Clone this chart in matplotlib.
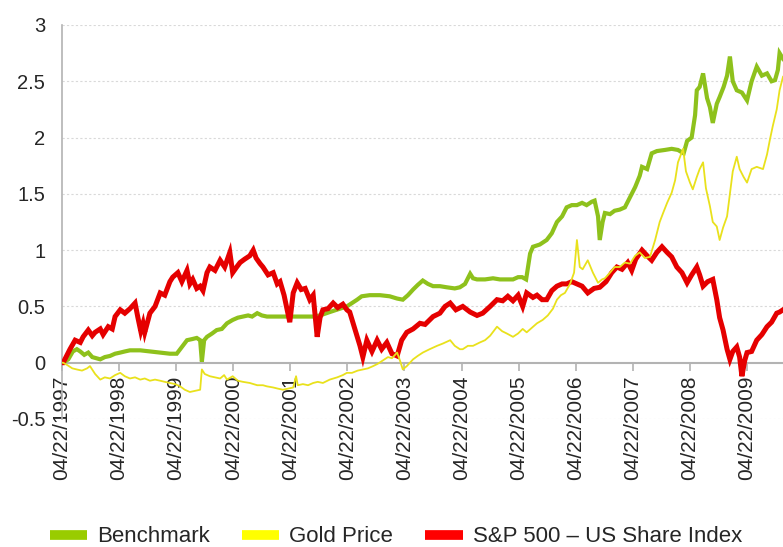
import matplotlib
matplotlib.use("Agg")
import matplotlib.pyplot as plt
from matplotlib.lines import Line2D
import pandas as pd
import numpy as np

# ---------------- data (years since 04/22/1997, cumulative return) ----------------
start_date = "1997-04-22"
tick_years = list(range(1997, 2010))
x_end_years = 12.63

series_names = ["Benchmark", "Gold Price", "S&P 500 \u2013 US Share Index"]

sp_t = [0.0, 0.02, 0.14, 0.23, 0.32, 0.37, 0.46, 0.53, 0.58, 0.67, 0.72, 0.81, 0.88, 0.93, 1.02, 1.10,
        1.19, 1.28, 1.33, 1.38, 1.42, 1.45, 1.54, 1.63, 1.72, 1.80, 1.89, 1.94, 2.03, 2.10, 2.19,
        2.24, 2.29, 2.36, 2.42, 2.47, 2.54, 2.59, 2.68, 2.77, 2.85, 2.94, 2.99, 3.06, 3.12, 3.20,
        3.29, 3.35, 3.40, 3.47, 3.52, 3.61, 3.70, 3.77, 3.82, 3.89, 3.94, 3.99, 4.05, 4.12, 4.19,
        4.26, 4.34, 4.40, 4.47, 4.52, 4.57, 4.66, 4.75, 4.83, 4.92, 4.99, 5.04, 5.13, 5.22, 5.27,
        5.34, 5.43, 5.52, 5.60, 5.69, 5.78, 5.87, 5.95, 6.04, 6.15, 6.27, 6.36, 6.50, 6.62, 6.71,
        6.80, 6.90, 7.02, 7.15, 7.27, 7.37, 7.50, 7.62, 7.72, 7.81, 7.90, 7.99, 8.07, 8.14, 8.25,
        8.32, 8.41, 8.49, 8.58, 8.67, 8.76, 8.84, 8.93, 9.02, 9.11, 9.21, 9.32, 9.42, 9.53, 9.63,
        9.72, 9.81, 9.91, 9.98, 10.05, 10.16, 10.25, 10.33, 10.42, 10.51, 10.60, 10.68, 10.77,
        10.86, 10.95, 11.03, 11.12, 11.17, 11.23, 11.31, 11.40, 11.47, 11.52, 11.58, 11.65, 11.70,
        11.75, 11.82, 11.87, 11.91, 11.96, 12.00, 12.08, 12.17, 12.26, 12.35, 12.43, 12.52, 12.57, 12.63]
sp_v = [0.0, 0.0, 0.12, 0.2, 0.18, 0.23, 0.29, 0.24, 0.27, 0.3, 0.25, 0.32, 0.3, 0.41, 0.47, 0.44,
        0.48, 0.53, 0.4, 0.28, 0.35, 0.27, 0.44, 0.5, 0.62, 0.6, 0.72, 0.76, 0.8, 0.72, 0.82,
        0.7, 0.74, 0.66, 0.68, 0.64, 0.8, 0.85, 0.82, 0.91, 0.85, 0.98, 0.8, 0.85, 0.89, 0.92,
        0.95, 1.0, 0.93, 0.88, 0.85, 0.78, 0.8, 0.7, 0.72, 0.6, 0.48, 0.36, 0.62, 0.71, 0.65,
        0.66, 0.56, 0.6, 0.23, 0.4, 0.47, 0.48, 0.53, 0.49, 0.52, 0.47, 0.45, 0.3, 0.15, 0.05,
        0.2, 0.1, 0.2, 0.12, 0.18, 0.08, 0.06, 0.2, 0.27, 0.3, 0.35, 0.34, 0.41, 0.44, 0.5,
        0.53, 0.47, 0.5, 0.45, 0.42, 0.44, 0.5, 0.56, 0.55, 0.59, 0.55, 0.6, 0.5, 0.62, 0.58,
        0.6, 0.56, 0.56, 0.64, 0.68, 0.7, 0.7, 0.72, 0.7, 0.68, 0.62, 0.66, 0.67, 0.72, 0.8,
        0.85, 0.83, 0.89, 0.82, 0.92, 1.0, 0.95, 0.91, 0.98, 1.03, 0.98, 0.94, 0.85,
        0.8, 0.71, 0.78, 0.85, 0.78, 0.68, 0.72, 0.74, 0.56, 0.4, 0.29, 0.12, 0.03,
        0.1, 0.14, 0.05, -0.12, 0.02, 0.09, 0.1, 0.2, 0.25, 0.32, 0.36, 0.44, 0.45, 0.47]

bm_t = [0.0, 0.02, 0.11, 0.19, 0.26, 0.32, 0.39, 0.46, 0.53, 0.60, 0.67, 0.75, 0.84, 0.93, 1.02, 1.10,
        1.19, 1.37, 1.54, 1.72, 1.89, 2.01, 2.10, 2.19, 2.28, 2.36, 2.42, 2.45, 2.49, 2.54, 2.63,
        2.71, 2.80, 2.89, 2.99, 3.08, 3.17, 3.26, 3.33, 3.42, 3.50, 3.59, 3.73, 3.87, 3.99, 4.17,
        4.40, 4.52, 4.69, 4.87, 4.99, 5.08, 5.17, 5.25, 5.39, 5.57, 5.74, 5.87, 5.97, 6.06, 6.15,
        6.23, 6.32, 6.41, 6.50, 6.62, 6.74, 6.88, 6.97, 7.06, 7.15, 7.20, 7.27, 7.41, 7.55, 7.67,
        7.79, 7.90, 7.99, 8.06, 8.13, 8.20, 8.25, 8.37, 8.49, 8.58, 8.67, 8.76, 8.84, 8.93, 9.02,
        9.11, 9.19, 9.28, 9.33, 9.39, 9.42, 9.47, 9.51, 9.60, 9.68, 9.77, 9.86, 9.95, 10.04, 10.12,
        10.16, 10.25, 10.33, 10.42, 10.56, 10.68, 10.79, 10.89, 10.95, 11.03, 11.09, 11.12, 11.17,
        11.23, 11.30, 11.35, 11.40, 11.47, 11.52, 11.59, 11.65, 11.70, 11.75, 11.82, 11.91, 12.00,
        12.08, 12.17, 12.26, 12.35, 12.43, 12.49, 12.54, 12.57, 12.63]
bm_v = [0.0, 0.0, 0.03, 0.1, 0.12, 0.1, 0.07, 0.09, 0.05, 0.04, 0.03, 0.05, 0.06, 0.08, 0.09, 0.1,
        0.11, 0.11, 0.1, 0.09, 0.08, 0.08, 0.14, 0.2, 0.21, 0.22, 0.2, 0.01, 0.2, 0.23, 0.26,
        0.29, 0.3, 0.35, 0.38, 0.4, 0.41, 0.42, 0.41, 0.44, 0.42, 0.41, 0.41, 0.41, 0.41, 0.41,
        0.41, 0.42, 0.45, 0.48, 0.5, 0.53, 0.56, 0.59, 0.6, 0.6, 0.59, 0.57, 0.56, 0.6, 0.65,
        0.69, 0.73, 0.7, 0.68, 0.68, 0.67, 0.66, 0.67, 0.7, 0.79, 0.75, 0.74, 0.74, 0.75, 0.74,
        0.74, 0.74, 0.76, 0.76, 0.74, 0.97, 1.03, 1.05, 1.09, 1.15, 1.25, 1.3, 1.38, 1.4, 1.4,
        1.42, 1.4, 1.43, 1.44, 1.3, 1.09, 1.25, 1.33, 1.32, 1.35, 1.36, 1.38, 1.47, 1.56, 1.66,
        1.74, 1.72, 1.86, 1.88, 1.89, 1.9, 1.89, 1.86, 1.97, 2.0, 2.2, 2.42, 2.45,
        2.57, 2.35, 2.27, 2.13, 2.3, 2.36, 2.45, 2.55, 2.72, 2.5, 2.42, 2.4, 2.33,
        2.5, 2.63, 2.55, 2.57, 2.5, 2.51, 2.6, 2.75, 2.7]

gold_t = [0.0, 0.02, 0.09, 0.18, 0.26, 0.35, 0.44, 0.49, 0.58, 0.67, 0.75, 0.84, 0.93, 1.02, 1.10, 1.19,
          1.28, 1.37, 1.45, 1.54, 1.63, 1.72, 1.80, 1.89, 1.98, 2.07, 2.15, 2.24, 2.33, 2.42, 2.45,
          2.50, 2.59, 2.68, 2.77, 2.84, 2.89, 2.99, 3.08, 3.17, 3.29, 3.42, 3.52, 3.59, 3.70, 3.78,
          3.87, 3.96, 4.05, 4.10, 4.13, 4.22, 4.31, 4.40, 4.48, 4.57, 4.69, 4.82, 4.92, 4.99, 5.08,
          5.18, 5.27, 5.36, 5.45, 5.53, 5.62, 5.71, 5.78, 5.87, 5.92, 5.97, 6.04, 6.15, 6.23, 6.32,
          6.44, 6.57, 6.67, 6.80, 6.88, 6.97, 7.02, 7.11, 7.20, 7.32, 7.41, 7.50, 7.62, 7.71, 7.79,
          7.90, 7.99, 8.07, 8.14, 8.23, 8.32, 8.42, 8.51, 8.60, 8.67, 8.74, 8.81, 8.90, 8.97, 9.02,
          9.07, 9.12, 9.21, 9.30, 9.39, 9.46, 9.51, 9.60, 9.68, 9.77, 9.86, 9.95, 10.04, 10.12,
          10.21, 10.30, 10.39, 10.47, 10.53, 10.60, 10.68, 10.74, 10.79, 10.88, 10.93, 11.00, 11.05,
          11.12, 11.17, 11.23, 11.28, 11.35, 11.40, 11.47, 11.52, 11.58, 11.65, 11.70, 11.75, 11.82,
          11.87, 11.94, 12.00, 12.08, 12.17, 12.28, 12.35, 12.40, 12.45, 12.52, 12.57, 12.63]
gold_v = [0.0, 0.0, -0.02, -0.05, -0.06, -0.07, -0.05, -0.03, -0.1, -0.15, -0.13, -0.14, -0.11, -0.09, -0.12, -0.14,
          -0.13, -0.15, -0.14, -0.16, -0.15, -0.16, -0.17, -0.18, -0.19, -0.21, -0.24, -0.26, -0.25, -0.24, -0.06,
          -0.1, -0.12, -0.13, -0.14, -0.11, -0.15, -0.12, -0.16, -0.17, -0.18, -0.2, -0.2, -0.21, -0.22, -0.23,
          -0.24, -0.23, -0.22, -0.12, -0.2, -0.19, -0.2, -0.18, -0.17, -0.18, -0.15, -0.13, -0.11, -0.09, -0.09,
          -0.07, -0.06, -0.05, -0.03, -0.01, 0.02, 0.05, 0.04, 0.09, 0.02, -0.06, -0.03, 0.03, 0.06, 0.09,
          0.12, 0.15, 0.17, 0.2, 0.15, 0.12, 0.12, 0.15, 0.15, 0.18, 0.2, 0.24, 0.32, 0.28, 0.26,
          0.23, 0.26, 0.3, 0.27, 0.31, 0.35, 0.38, 0.42, 0.48, 0.56, 0.6, 0.62, 0.7, 0.8, 1.09,
          0.85, 0.83, 0.91, 0.8, 0.71, 0.74, 0.75, 0.8, 0.85, 0.85, 0.89, 0.88, 0.95, 0.98,
          0.93, 0.94, 1.09, 1.25, 1.33, 1.42, 1.51, 1.62, 1.78, 1.9, 1.7, 1.6, 1.54,
          1.65, 1.72, 1.78, 1.55, 1.39, 1.25, 1.21, 1.09, 1.2, 1.3, 1.5, 1.7, 1.83,
          1.72, 1.65, 1.6, 1.72, 1.74, 1.72, 1.85, 1.98, 2.1, 2.25, 2.42, 2.54]

# ---------------- styling ----------------
FONT = ["Liberation Sans", "DejaVu Sans"]
plt.rcParams["font.family"] = FONT
TXT = "#262626"
AXC = "#b3b3b3"
line_colors = ["#8EC11C", "#E9E11C", "#E50000"]
legend_colors = ["#99CC00", "#FFFF00", "#FF0000"]

start = pd.Timestamp(start_date)


def to_dates(ts):
    return [start + pd.Timedelta(days=float(t) * 365.25) for t in ts]


fig = plt.figure(figsize=(7.83, 5.47), dpi=100)
ax = fig.add_axes([62 / 783, 1 - 419 / 547, 1 - 62 / 783, (419 - 25) / 547])

ax.plot(to_dates(bm_t), bm_v, color=line_colors[0], lw=3.0, solid_joinstyle="miter", zorder=3)
ax.plot(to_dates(sp_t), sp_v, color=line_colors[2], lw=3.6, solid_joinstyle="miter", zorder=4)
ax.plot(to_dates(gold_t), gold_v, color=line_colors[1], lw=1.3, zorder=5)

ax.set_ylim(-0.5, 3)
ax.set_xlim(start, start + pd.Timedelta(days=x_end_years * 365.25))
ax.set_yticks(np.arange(-0.5, 3.01, 0.5))
ax.set_yticklabels(["-0.5", "0", "0.5", "1", "1.5", "2", "2.5", "3"])

xt = [pd.Timestamp(f"{y}-04-22") for y in tick_years]
ax.set_xticks(xt)
ax.set_xticklabels([d.strftime("%m/%d/%Y") for d in xt])

for yv in np.arange(-0.5, 3.01, 0.5):
    if abs(yv) > 1e-9:
        ax.axhline(yv, color="#d9d9d9", lw=0.8, ls=(0, (2, 2)), zorder=1)

for s in ["top", "right"]:
    ax.spines[s].set_visible(False)
ax.spines["bottom"].set_position(("data", 0))
ax.spines["bottom"].set_color(AXC)
ax.spines["bottom"].set_linewidth(1.5)
ax.spines["bottom"].set_zorder(2)
ax.spines["left"].set_color(AXC)
ax.spines["left"].set_linewidth(1.2)

ax.tick_params(axis="x", direction="out", length=6, width=1.2, color=AXC, pad=3,
               labelsize=15, labelcolor=TXT, labelrotation=90)
ax.tick_params(axis="y", direction="out", length=0, pad=12, labelsize=14.5, labelcolor=TXT)
for lab in ax.get_xticklabels():
    lab.set_verticalalignment("top")
    lab.set_horizontalalignment("center")
    lab.set_rotation_mode("default")

handles = [Line2D([0], [0], color=c, lw=7, solid_capstyle="butt") for c in legend_colors]
leg = fig.legend(handles, series_names, loc="center", bbox_to_anchor=(396 / 783, 1 - 537 / 547),
                 ncol=3, frameon=False, handlelength=1.67, handletextpad=0.45, columnspacing=1.45,
                 prop={"family": FONT, "size": 16})
for t in leg.get_texts():
    t.set_color(TXT)

fig.savefig("out.png", dpi=100)
